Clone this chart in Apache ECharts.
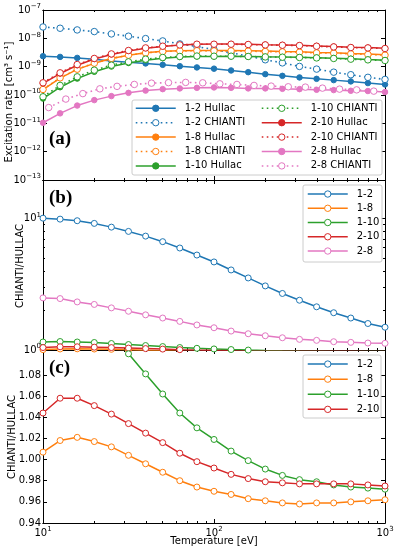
<!DOCTYPE html>
<html><head><meta charset="utf-8">
<script src="https://cdn.jsdelivr.net/npm/echarts@6/dist/echarts.min.js"></script>
<style>html,body{margin:0;padding:0;background:#fff}#c{width:397px;height:550px}</style>
</head><body><div id="c"></div><script>
// ---------- data ----------
const temperature = [10, 12.59, 15.85, 19.95, 25.12, 31.62, 39.81, 50.12, 63.10, 79.43, 100, 125.9, 158.5, 199.5, 251.2, 316.2, 398.1, 501.2, 631.0, 794.3, 1000];
const temperature28Chianti = [10.8, 13.6, 17.1, 21.5, 27.1, 34.2, 43.1, 54.2, 68.3, 85.9, 108.2, 136.2, 171.5, 215.9, 271.8, 342.2, 430.8, 542.3, 682.7, 859.5];

const rate12Hullac = [2.34e-9, 2.21e-9, 2.04e-9, 1.84e-9, 1.60e-9, 1.44e-9, 1.30e-9, 1.16e-9, 1.04e-9, 9.4e-10, 8.5e-10, 7.35e-10, 6.4e-10, 5.45e-10, 4.74e-10, 4.17e-10, 3.72e-10, 3.35e-10, 3.02e-10, 2.63e-10, 2.36e-10];
const rate12Chianti = [2.52e-8, 2.27e-8, 1.98e-8, 1.73e-8, 1.43e-8, 1.19e-8, 9.8e-9, 8.1e-9, 6.35e-9, 5.1e-9, 4.0e-9, 3.1e-9, 2.35e-9, 1.75e-9, 1.36e-9, 1.02e-9, 8.2e-10, 6.4e-10, 5.2e-10, 4.2e-10, 3.55e-10];
const rate18Hullac = [1.56e-10, 3.96e-10, 8.0e-10, 1.31e-9, 1.93e-9, 2.53e-9, 3.07e-9, 3.47e-9, 3.67e-9, 3.75e-9, 3.71e-9, 3.72e-9, 3.66e-9, 3.57e-9, 3.46e-9, 3.38e-9, 3.19e-9, 3.12e-9, 2.94e-9, 2.80e-9, 2.64e-9];
const rate18Chianti = [1.57e-10, 4.03e-10, 8.17e-10, 1.33e-9, 1.95e-9, 2.54e-9, 3.06e-9, 3.43e-9, 3.60e-9, 3.65e-9, 3.60e-9, 3.60e-9, 3.52e-9, 3.43e-9, 3.32e-9, 3.24e-9, 3.06e-9, 2.99e-9, 2.82e-9, 2.69e-9, 2.54e-9];
const rate110Hullac = [7.5e-11, 1.88e-10, 3.8e-10, 6.6e-10, 1.01e-9, 1.35e-9, 1.70e-9, 1.99e-9, 2.19e-9, 2.30e-9, 2.30e-9, 2.32e-9, 2.29e-9, 2.23e-9, 2.19e-9, 2.15e-9, 2.08e-9, 2.00e-9, 1.89e-9, 1.79e-9, 1.70e-9];
const rate110Chianti = [8.65e-11, 2.18e-10, 4.38e-10, 7.53e-10, 1.13e-9, 1.48e-9, 1.84e-9, 2.11e-9, 2.29e-9, 2.37e-9, 2.34e-9, 2.34e-9, 2.29e-9, 2.21e-9, 2.16e-9, 2.11e-9, 2.04e-9, 1.95e-9, 1.84e-9, 1.74e-9, 1.65e-9];
const rate210Hullac = [2.58e-10, 5.72e-10, 1.12e-9, 1.86e-9, 2.70e-9, 3.60e-9, 4.48e-9, 5.19e-9, 5.83e-9, 6.21e-9, 6.25e-9, 6.29e-9, 6.16e-9, 5.99e-9, 5.84e-9, 5.70e-9, 5.39e-9, 5.10e-9, 4.85e-9, 4.70e-9, 4.48e-9];
const rate210Chianti = [2.69e-10, 6.05e-10, 1.19e-9, 1.95e-9, 2.82e-9, 3.72e-9, 4.59e-9, 5.27e-9, 5.86e-9, 6.20e-9, 6.20e-9, 6.20e-9, 6.05e-9, 5.86e-9, 5.71e-9, 5.57e-9, 5.27e-9, 4.98e-9, 4.74e-9, 4.59e-9, 4.37e-9];
const rate28Hullac = [1.05e-11, 2.25e-11, 4.24e-11, 6.6e-11, 9.14e-11, 1.19e-10, 1.43e-10, 1.61e-10, 1.71e-10, 1.79e-10, 1.85e-10, 1.79e-10, 1.71e-10, 1.71e-10, 1.65e-10, 1.61e-10, 1.53e-10, 1.49e-10, 1.41e-10, 1.38e-10, 1.27e-10];
const rate28Chianti = [3.6e-11, 7.18e-11, 1.12e-10, 1.65e-10, 2.02e-10, 2.36e-10, 2.62e-10, 2.73e-10, 2.78e-10, 2.69e-10, 2.48e-10, 2.36e-10, 2.18e-10, 2.06e-10, 1.95e-10, 1.90e-10, 1.75e-10, 1.61e-10, 1.52e-10, 1.37e-10];

const ratio12 = [10.05, 9.88, 9.61, 9.17, 8.59, 7.97, 7.34, 6.66, 5.96, 5.27, 4.67, 4.06, 3.53, 3.07, 2.69, 2.39, 2.13, 1.92, 1.75, 1.59, 1.49];
const ratio18 = [1.007, 1.018, 1.021, 1.017, 1.012, 1.004, 0.996, 0.988, 0.980, 0.974, 0.970, 0.967, 0.963, 0.961, 0.959, 0.958, 0.959, 0.959, 0.960, 0.961, 0.962];
const ratio110 = [1.15, 1.16, 1.15, 1.14, 1.12, 1.100, 1.081, 1.062, 1.044, 1.030, 1.019, 1.008, 0.999, 0.991, 0.985, 0.981, 0.979, 0.976, 0.974, 0.973, 0.972];
const ratio210 = [1.044, 1.058, 1.058, 1.051, 1.043, 1.034, 1.025, 1.016, 1.006, 0.998, 0.992, 0.986, 0.982, 0.979, 0.978, 0.977, 0.977, 0.977, 0.977, 0.976, 0.975];
const ratio28 = [2.49, 2.46, 2.32, 2.22, 2.09, 1.97, 1.85, 1.75, 1.65, 1.55, 1.476, 1.393, 1.329, 1.283, 1.239, 1.205, 1.184, 1.156, 1.143, 1.13, 1.124];

const xMajorTicks = [10, 100, 1000];
const xMinorTicks = [20, 30, 40, 50, 60, 70, 80, 90, 200, 300, 400, 500, 600, 700, 800, 900];
const rateTicks = [1e-13, 1e-12, 1e-11, 1e-10, 1e-9, 1e-8, 1e-7];
const ratioLogTicks = [1, 10];
const ratioLogMinorTicks = [2, 3, 4, 5, 6, 7, 8, 9];
const ratioLinTicks = [0.94, 0.96, 0.98, 1.00, 1.02, 1.04, 1.06, 1.08];

// ---------- styling ----------
const F = 'DejaVu Sans';
const C = {'1-2': '#1f77b4', '1-8': '#ff7f0e', '1-10': '#2ca02c', '2-10': '#d62728', '2-8': '#e377c2'};
const DOT = [1.6, 3.4];
const L = 43, R = 12;
const GA = {top: 10, height: 170}, GB = {top: 180, height: 170}, GC = {top: 350, height: 173};

function powLabel(v) {
  const lg = Math.log10(v), e = Math.round(lg);
  if (Math.abs(lg - e) > 1e-6) return '';
  return '{b|10}{s|' + (e < 0 ? '\u2212' + (-e) : String(e)) + '}';
}
const rich = {
  b: {fontFamily: F, fontSize: 10, color: '#000', lineHeight: 10, padding: [2, 0, 6, 0]},
  s: {fontFamily: F, fontSize: 7, color: '#000', lineHeight: 7, padding: [0, 0, 11, 0]}
};
const tickLine = {color: '#000', width: 1};
const axLine = {show: true, onZero: false, lineStyle: {color: '#000', width: 1}};

function xAxes(grid, labels) {
  const base = {type: 'log', logBase: 10, min: 10, max: 1000, gridIndex: grid,
    axisLine: axLine, splitLine: {show: false}, minorTick: {show: false}};
  const maj = {show: true, inside: true, length: 4, lineStyle: tickLine, customValues: xMajorTicks};
  const min = {show: true, inside: true, length: 2, lineStyle: tickLine, customValues: xMinorTicks};
  return [
    Object.assign({}, base, {position: 'bottom', axisTick: maj,
      axisLabel: labels ? {show: true, customValues: xMajorTicks, formatter: powLabel, rich: rich, margin: 7, verticalAlign: 'top'} : {show: false}}),
    Object.assign({}, base, {position: 'bottom', axisTick: min, axisLabel: {show: false}}),
    Object.assign({}, base, {position: 'top', axisTick: maj, axisLabel: {show: false}}),
    Object.assign({}, base, {position: 'top', axisTick: min, axisLabel: {show: false}})
  ];
}
function yAxis(grid, pos, base, ticks, len, labelOpt) {
  return Object.assign({}, base, {gridIndex: grid, position: pos,
    axisLine: axLine, splitLine: {show: false},
    axisTick: {show: true, inside: true, length: len, lineStyle: tickLine, customValues: ticks},
    axisLabel: labelOpt || {show: false}});
}
const yBaseA = {type: 'log', logBase: 10, min: 1e-13, max: 1e-7};
const yBaseB = {type: 'log', logBase: 10, min: 1, max: 19.6};
const yBaseC = {type: 'value', min: 0.94, max: 1.1036, scale: true};

const yAxes = [
  yAxis(0, 'left', yBaseA, rateTicks, 4, {show: true, customValues: rateTicks, formatter: powLabel, rich: rich, margin: 2, padding: [4, 0, 0, 0]}),
  yAxis(0, 'right', yBaseA, rateTicks, 4),
  yAxis(1, 'left', yBaseB, ratioLogTicks, 4, {show: true, customValues: ratioLogTicks, formatter: powLabel, rich: rich, margin: 2, padding: [4, 0, 0, 0]}),
  yAxis(1, 'left', yBaseB, ratioLogMinorTicks, 2),
  yAxis(1, 'right', yBaseB, ratioLogTicks, 4),
  yAxis(1, 'right', yBaseB, ratioLogMinorTicks, 2),
  yAxis(2, 'left', yBaseC, ratioLinTicks, 4, {show: true, customValues: ratioLinTicks, margin: 2,
    formatter: v => v.toFixed(2), fontFamily: F, fontSize: 10, color: '#000'}),
  yAxis(2, 'right', yBaseC, ratioLinTicks, 4)
];

function pts(xs, ys) { return ys.map((y, i) => [xs[i], y]); }
function solidSeries(name, key, xs, ys, xi, yi, open) {
  const col = C[key];
  return {
    type: 'line', name: name, xAxisIndex: xi, yAxisIndex: yi, data: pts(xs, ys),
    symbol: 'circle', symbolSize: open ? 6 : 5.5, showSymbol: true, clip: true,
    lineStyle: {color: col, width: 1.5, type: 'solid'},
    itemStyle: open ? {color: '#fff', borderColor: col, borderWidth: 1} : {color: col, borderColor: col, borderWidth: 1},
    emphasis: {disabled: true}, silent: true, z: 2
  };
}
function dottedSeries(name, key, xs, ys, xi, yi) {
  const col = C[key];
  return {
    type: 'line', name: name, xAxisIndex: xi, yAxisIndex: yi, data: pts(xs, ys),
    symbol: 'circle', symbolSize: 6.5, showSymbol: true, clip: true,
    lineStyle: {color: col, width: 1.6, type: DOT},
    itemStyle: {color: '#fff', borderColor: col, borderWidth: 1},
    emphasis: {disabled: true}, silent: true, z: 2
  };
}

const series = [
  solidSeries('1-2 Hullac', '1-2', temperature, rate12Hullac, 0, 0, false),
  dottedSeries('1-2 CHIANTI', '1-2', temperature, rate12Chianti, 0, 0),
  solidSeries('1-8 Hullac', '1-8', temperature, rate18Hullac, 0, 0, false),
  dottedSeries('1-8 CHIANTI', '1-8', temperature, rate18Chianti, 0, 0),
  solidSeries('1-10 Hullac', '1-10', temperature, rate110Hullac, 0, 0, false),
  dottedSeries('1-10 CHIANTI', '1-10', temperature, rate110Chianti, 0, 0),
  solidSeries('2-10 Hullac', '2-10', temperature, rate210Hullac, 0, 0, false),
  dottedSeries('2-10 CHIANTI', '2-10', temperature, rate210Chianti, 0, 0),
  solidSeries('2-8 Hullac', '2-8', temperature, rate28Hullac, 0, 0, false),
  dottedSeries('2-8 CHIANTI', '2-8', temperature28Chianti, rate28Chianti, 0, 0),

  solidSeries('1-2', '1-2', temperature, ratio12, 4, 2, true),
  solidSeries('1-8', '1-8', temperature, ratio18, 4, 2, true),
  solidSeries('1-10', '1-10', temperature, ratio110, 4, 2, true),
  solidSeries('2-10', '2-10', temperature, ratio210, 4, 2, true),
  solidSeries('2-8', '2-8', temperature, ratio28, 4, 2, true),

  solidSeries('1-2', '1-2', temperature, ratio12, 8, 6, true),
  solidSeries('1-8', '1-8', temperature, ratio18, 8, 6, true),
  solidSeries('1-10', '1-10', temperature, ratio110, 8, 6, true),
  solidSeries('2-10', '2-10', temperature, ratio210, 8, 6, true)
];

function legend(left, top, lh, names) {
  return {orient: 'vertical', left: left, top: top, padding: 0, itemGap: 0,
    itemWidth: 40, itemHeight: 8, selectedMode: false, z: 5,
    itemStyle: {borderWidth: 1}, lineStyle: {width: 1.5},
    textStyle: {fontFamily: F, fontSize: 10, color: '#000', lineHeight: lh, padding: [0, 0, 0, 4]},
    data: names};
}

const option = {
  animation: false,
  backgroundColor: '#fff',
  grid: [
    Object.assign({left: L, right: R, show: false, outerBoundsMode: 'none'}, GA),
    Object.assign({left: L, right: R, show: false, outerBoundsMode: 'none'}, GB),
    Object.assign({left: L, right: R, show: false, outerBoundsMode: 'none'}, GC)
  ],
  xAxis: [].concat(xAxes(0, false), xAxes(1, false), xAxes(2, true)),
  yAxis: yAxes,
  legend: [
    legend(135, 101.1, 14.4, ['1-2 Hullac', '1-2 CHIANTI', '1-8 Hullac', '1-8 CHIANTI', '1-10 Hullac']),
    legend(261, 101.1, 14.4, ['1-10 CHIANTI', '2-10 Hullac', '2-10 CHIANTI', '2-8 Hullac', '2-8 CHIANTI']),
    legend(307, 186.9, 14.25, ['1-2', '1-8', '1-10', '2-10', '2-8']),
    legend(307, 356.5, 15.1, ['1-2', '1-8', '1-10', '2-10'])
  ],
  graphic: [
    {type: 'rect', z: 4, shape: {x: 132, y: 100, width: 250, height: 75, r: 2}, style: {fill: 'rgba(255,255,255,0.85)', stroke: '#cccccc', lineWidth: 1}},
    {type: 'rect', z: 4, shape: {x: 303, y: 185, width: 79, height: 77, r: 2}, style: {fill: 'rgba(255,255,255,0.85)', stroke: '#cccccc', lineWidth: 1}},
    {type: 'rect', z: 4, shape: {x: 303, y: 355, width: 78, height: 63, r: 2}, style: {fill: 'rgba(255,255,255,0.85)', stroke: '#cccccc', lineWidth: 1}},
    {type: 'text', z: 6, x: 49, y: 139, style: {text: '(a)', font: 'bold 19px "Liberation Serif"', fill: '#000', textVerticalAlign: 'middle'}},
    {type: 'text', z: 6, x: 49, y: 198.5, style: {text: '(b)', font: 'bold 19px "Liberation Serif"', fill: '#000', textVerticalAlign: 'middle'}},
    {type: 'text', z: 6, x: 49, y: 368.5, style: {text: '(c)', font: 'bold 19px "Liberation Serif"', fill: '#000', textVerticalAlign: 'middle'}},
    {type: 'text', z: 6, x: 9, y: 102, rotation: Math.PI / 2, style: {text: 'Excitation rate [cm\u00b3 s\u207b\u00b9]', font: '10px "DejaVu Sans"', fill: '#000', textAlign: 'center', textVerticalAlign: 'middle'}},
    {type: 'text', z: 6, x: 20, y: 266, rotation: Math.PI / 2, style: {text: 'CHIANTI/HULLAC', font: '10px "DejaVu Sans"', fill: '#000', textAlign: 'center', textVerticalAlign: 'middle'}},
    {type: 'text', z: 6, x: 12, y: 437, rotation: Math.PI / 2, style: {text: 'CHIANTI/HULLAC', font: '10px "DejaVu Sans"', fill: '#000', textAlign: 'center', textVerticalAlign: 'middle'}},
    {type: 'text', z: 6, x: 214, y: 541, style: {text: 'Temperature [eV]', font: '10px "DejaVu Sans"', fill: '#000', textAlign: 'center', textVerticalAlign: 'middle'}}
  ],
  series: series
};
const chart = echarts.init(document.getElementById('c'), null, {renderer: 'canvas'});
chart.setOption(option);
</script></body></html>
